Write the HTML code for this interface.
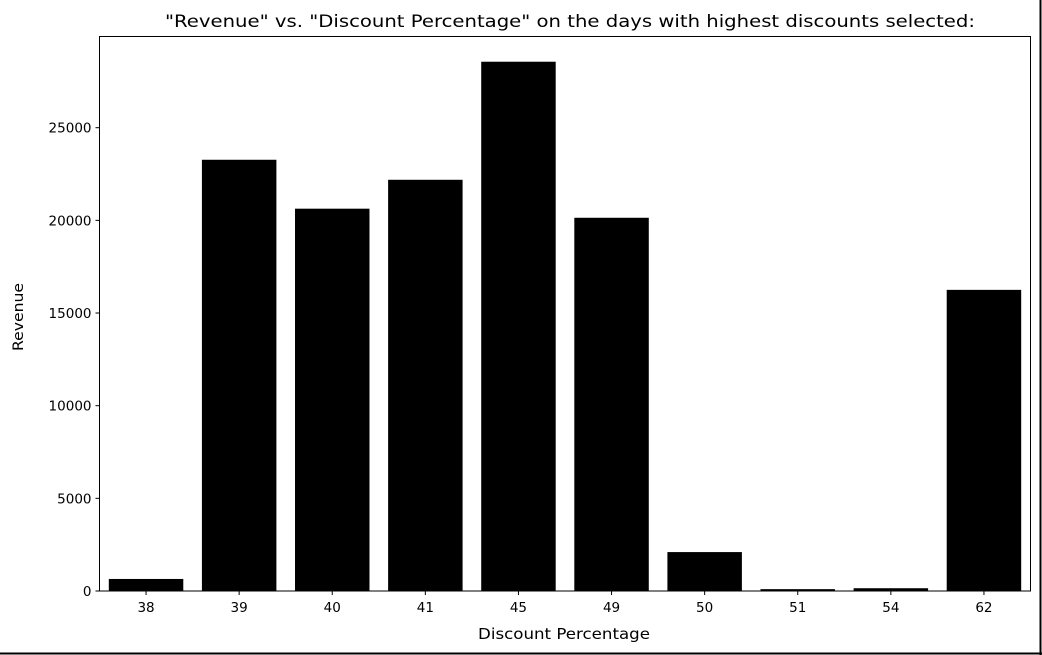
<!DOCTYPE html>
<html><head><meta charset="utf-8"><style>
body{margin:0;background:#fff;width:1042px;height:655px;overflow:hidden}
svg{display:block;font-family:"DejaVu Sans","Liberation Sans",sans-serif}
</style></head><body>
<svg id="chart" width="1042" height="655">
<line x1="1040.5" y1="0" x2="1040.5" y2="655" stroke="#000" stroke-width="2"/>
<line x1="0" y1="653.5" x2="1042" y2="653.5" stroke="#000" stroke-width="2"/>
<text x="570" y="27" font-size="17" text-anchor="middle" textLength="810" lengthAdjust="spacingAndGlyphs">"Revenue" vs. "Discount Percentage" on the days with highest discounts selected:</text>
<text x="564" y="639" font-size="15" text-anchor="middle" textLength="172" lengthAdjust="spacingAndGlyphs">Discount Percentage</text>
<text transform="translate(23,317) rotate(-90)" font-size="14.5" text-anchor="middle" textLength="68" lengthAdjust="spacingAndGlyphs">Revenue</text>
<g id="bars"></g><g id="ticks"></g>
<rect x="99.5" y="36.5" width="931" height="554.5" fill="none" stroke="#000" stroke-width="1"/>
</svg>
<script>
const categories=["38","39","40","41","45","49","50","51","54","62"];
const revenue=[650,23270,20630,22190,28560,20140,2100,100,150,16250];
const yTicks=[0,5000,10000,15000,20000,25000];
const L=99.5,R=1030.5,B=591,pxPer=(591-127.7)/25000;
const ns="http://www.w3.org/2000/svg";
const y=v=>B-v*pxPer;
const step=(R-L)/categories.length;
const x=i=>L+step*i;
const bars=document.getElementById('bars'),ticks=document.getElementById('ticks');
function mk(t,a){const e=document.createElementNS(ns,t);for(const k in a)e.setAttribute(k,a[k]);return e;}
categories.forEach((c,i)=>{
  const r=mk('rect',{x:x(i)+step*0.1,y:y(revenue[i]),width:step*0.8,height:B-y(revenue[i]),fill:'#000'});
  
  
  bars.appendChild(r);
  const cx=x(i)+step/2;
  const tk=mk('line',{x1:cx,x2:cx,y1:B,y2:B+4,stroke:'#000'});
  
  
  ticks.appendChild(tk);
  const t=mk('text',{x:cx,y:B+21,'font-size':13.5,'text-anchor':'middle'});
  t.textContent=c;
  
  
  ticks.appendChild(t);
});
yTicks.forEach(v=>{
  const tk=mk('line',{x1:L-4,x2:L,y1:y(v),y2:y(v),stroke:'#000'});
  
  
  ticks.appendChild(tk);
  const t=mk('text',{x:L-8,y:y(v)+5,'font-size':13.5,'text-anchor':'end'});
  t.textContent=v;
  
  
  ticks.appendChild(t);
});
</script>
</body></html>
